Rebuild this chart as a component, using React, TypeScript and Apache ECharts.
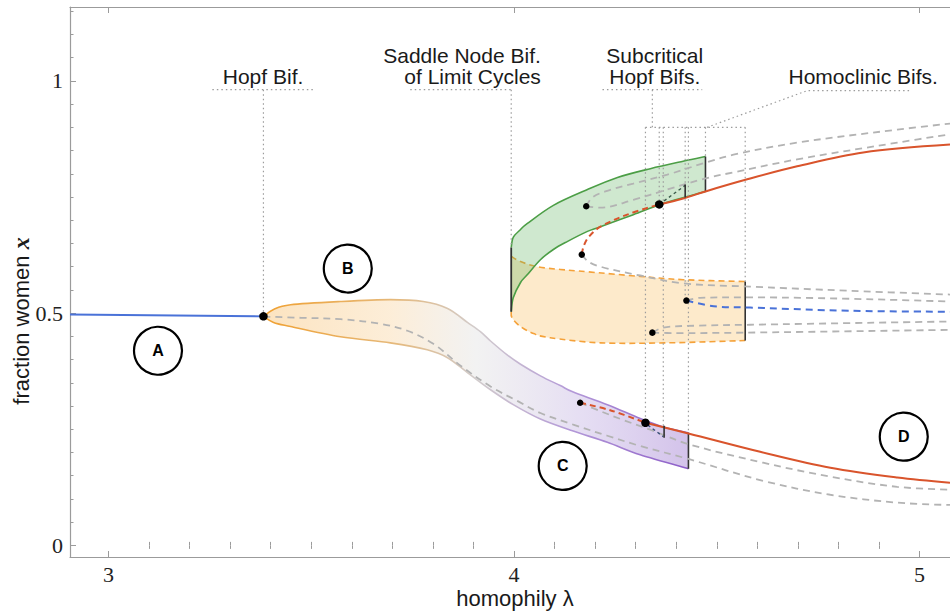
import React, { useEffect, useRef } from "react";
import * as echarts from "echarts";

// ---------- axes ----------
const X_MIN = 2.905;
const X_MAX = 5.075;
const Y_MIN = -0.025;
const Y_MAX = 1.159;
const xMajorTicks = [3, 4, 5];
const xMinorTicks = [3.1, 3.2, 3.3, 3.4, 3.5, 3.6, 3.7, 3.8, 3.9, 4.1, 4.2, 4.3, 4.4, 4.5, 4.6, 4.7, 4.8, 4.9];
const yMajorTicks = [0, 0.5, 1];
const yMinorTicks = [0.05, 0.1, 0.15, 0.2, 0.25, 0.3, 0.35, 0.4, 0.45, 0.55, 0.6, 0.65, 0.7, 0.75, 0.8, 0.85, 0.9, 0.95, 1.05, 1.1, 1.15];

// ---------- branches (lambda, x) ----------
const stableSymmetric = [[2.905, 0.497], [3.382, 0.493]];

const cycleBCUpper = [[3.382, 0.493], [3.407, 0.508], [3.449, 0.518], [3.572, 0.525], [3.695, 0.529], [3.776, 0.525], [3.836, 0.51], [3.885, 0.48], [3.917, 0.46], [3.942, 0.44], [3.983, 0.41], [4.016, 0.39], [4.065, 0.365], [4.114, 0.344], [4.146, 0.33], [4.23, 0.303], [4.311, 0.273], [4.368, 0.255], [4.43, 0.2425]];
const cycleBCLower = [[3.382, 0.493], [3.407, 0.48], [3.449, 0.471], [3.572, 0.449], [3.695, 0.436], [3.786, 0.421], [3.836, 0.404], [3.885, 0.372], [3.942, 0.335], [3.998, 0.303], [4.065, 0.272], [4.146, 0.246], [4.23, 0.222], [4.311, 0.195], [4.43, 0.165]];
const unstableSymmetric = [[3.382, 0.4925], [3.473, 0.49], [3.572, 0.487], [3.67, 0.477], [3.737, 0.462], [3.801, 0.434], [3.868, 0.387], [3.942, 0.342], [4.008, 0.311], [4.065, 0.285], [4.146, 0.26], [4.23, 0.236], [4.311, 0.214], [4.43, 0.186], [4.614, 0.139], [4.78, 0.109], [4.945, 0.092], [5.075, 0.087]];

const lowerSaddle = [[4.163, 0.307], [4.21, 0.29], [4.269, 0.27], [4.336, 0.249], [4.43, 0.218], [4.614, 0.178], [4.78, 0.148], [4.945, 0.126], [5.075, 0.12]];
const lowerUnstableNode = [[4.163, 0.307], [4.237, 0.291], [4.324, 0.264]];
const lowerStable = [[4.324, 0.264], [4.43, 0.241], [4.607, 0.2015], [4.78, 0.167], [4.945, 0.146], [5.075, 0.135]];
const lowerSmallCycle = [[4.33, 0.259], [4.368, 0.234]];
const lowerSmallCycleEnd = [[4.37, 0.2317], [4.37, 0.2575]];

const snlcSegment = [[3.993, 0.503], [3.993, 0.641]];
const greenCycleUpper = [[3.993, 0.641], [3.998, 0.663], [4.016, 0.68], [4.033, 0.693], [4.097, 0.732], [4.181, 0.766], [4.255, 0.792], [4.336, 0.811], [4.417, 0.827], [4.472, 0.837]];
const greenCycleLower = [[3.993, 0.503], [3.998, 0.533], [4.016, 0.566], [4.033, 0.583], [4.065, 0.615], [4.097, 0.637], [4.131, 0.654], [4.181, 0.676], [4.213, 0.686], [4.294, 0.712], [4.361, 0.734], [4.427, 0.751], [4.472, 0.762]];
const orangeCycleUpper = [[3.993, 0.622], [4.016, 0.611], [4.057, 0.6], [4.114, 0.594], [4.181, 0.589], [4.311, 0.579], [4.417, 0.572], [4.57, 0.568]];
const orangeCycleLower = [[3.993, 0.503], [3.995, 0.49], [4.016, 0.471], [4.048, 0.456], [4.089, 0.447], [4.213, 0.436], [4.378, 0.436], [4.57, 0.441]];

const upperUnstableNode = [[4.167, 0.626], [4.172, 0.645], [4.185, 0.665], [4.213, 0.686], [4.279, 0.712], [4.358, 0.734]];
const upperStable = [[4.358, 0.734], [4.417, 0.7468], [4.472, 0.762], [4.575, 0.788], [4.698, 0.816], [4.861, 0.846], [5.075, 0.863]];
const upperSaddle = [[4.167, 0.626], [4.183, 0.611], [4.213, 0.6], [4.311, 0.581], [4.417, 0.564], [4.582, 0.557], [4.829, 0.548], [5.075, 0.54]];
const upperSmallCycle = [[4.358, 0.734], [4.422, 0.775]];
const upperSmallCycleEnd = [[4.422, 0.749], [4.422, 0.777]];
const innerGreenUpper = [[4.178, 0.73], [4.193, 0.749], [4.225, 0.762], [4.294, 0.779], [4.378, 0.798], [4.472, 0.824], [4.541, 0.841], [4.698, 0.867], [4.945, 0.895], [5.075, 0.908]];
const innerGreenLower = [[4.178, 0.73], [4.213, 0.727], [4.294, 0.744], [4.378, 0.766], [4.472, 0.79], [4.541, 0.803], [4.698, 0.831], [4.945, 0.867], [5.075, 0.885]];

const midBlue = [[4.425, 0.527], [4.501, 0.514], [4.582, 0.512], [4.829, 0.505], [5.075, 0.503]];
const midGrayA = [[4.425, 0.527], [4.459, 0.533], [4.582, 0.534], [5.075, 0.525]];
const midGrayB = [[4.341, 0.458], [4.368, 0.469], [4.45, 0.473], [4.582, 0.475], [5.075, 0.482]];
const midGrayC = [[4.341, 0.458], [4.4, 0.457], [4.57, 0.458], [5.075, 0.464]];

const bigDots = [[3.382, 0.493], [4.358, 0.734], [4.324, 0.264]];
const smallDots = [[4.178, 0.73], [4.167, 0.626], [4.425, 0.527], [4.341, 0.458], [4.163, 0.307]];

// ---------- annotation leaders ----------
const leaderY = 0.981;
const bracketY = 0.9;
const hopfLeaderH = [[3.256, leaderY], [3.505, leaderY]];
const hopfLeaderV = [[3.382, leaderY], [3.382, 0.493]];
const snlcLeaderH = [[3.744, leaderY], [3.996, leaderY]];
const snlcLeaderV = [[3.993, leaderY], [3.993, 0.641]];
const subHopfLeaderH = [[4.218, leaderY], [4.464, leaderY]];
const subHopfLeaderV = [[4.341, leaderY], [4.341, bracketY]];
const bracket = [[4.324, bracketY], [4.57, bracketY]];
const homoLeader = [[4.476, bracketY], [4.723, 0.979], [4.977, 0.979]];
const drops = [
  [[4.324, bracketY], [4.324, 0.264]],
  [[4.358, bracketY], [4.358, 0.734]],
  [[4.368, bracketY], [4.368, 0.2575]],
  [[4.422, bracketY], [4.422, 0.527]],
  [[4.43, bracketY], [4.43, 0.2425]],
  [[4.472, bracketY], [4.472, 0.837]],
  [[4.57, bracketY], [4.57, 0.568]],
];

// text anchors: [lambda, x]
const annotationCentered = [
  { name: "Hopf Bif.", value: [3.381, 1.009] },
  { name: "Subcritical\nHopf Bifs.", value: [4.347, 1.031] },
  { name: "Homoclinic Bifs.", value: [4.861, 1.009] },
];
const annotationRight = [{ name: "Saddle Node Bif.\nof Limit Cycles", value: [4.066, 1.031] }];
const regionLabels = [
  { name: "A", value: [3.122, 0.419] },
  { name: "B", value: [3.59, 0.596] },
  { name: "C", value: [4.12, 0.171] },
  { name: "D", value: [4.961, 0.234] },
];

const SANS = "Liberation Sans";
const SERIF = "Liberation Serif";
const GRAY_DASH = "#b3b3b3";
const RED = "#d9542c";
const BLUE = "#4a72d8";
const DOT_GRAY = "#9c9c9c";

function crPath(pts: number[][], move: boolean): string {
  let d = (move ? "M" : "L") + pts[0][0].toFixed(2) + "," + pts[0][1].toFixed(2);
  for (let i = 0; i < pts.length - 1; i++) {
    const p0 = pts[i - 1] || pts[i];
    const p1 = pts[i];
    const p2 = pts[i + 1];
    const p3 = pts[i + 2] || p2;
    const c1x = p1[0] + (p2[0] - p0[0]) / 6;
    const c1y = p1[1] + (p2[1] - p0[1]) / 6;
    const c2x = p2[0] - (p3[0] - p1[0]) / 6;
    const c2y = p2[1] - (p3[1] - p1[1]) / 6;
    d += " C" + c1x.toFixed(2) + "," + c1y.toFixed(2) + " " + c2x.toFixed(2) + "," + c2y.toFixed(2) + " " + p2[0].toFixed(2) + "," + p2[1].toFixed(2);
  }
  return d;
}

export default function App() {
  const ref = useRef<HTMLDivElement>(null);
  useEffect(() => {
    if (!ref.current) return;
    const chart = echarts.init(ref.current, null, { renderer: "svg" });
    const G = echarts.graphic.LinearGradient;

    const bcFill = new G(0, 0, 1, 0, [
      { offset: 0, color: "rgba(246,178,80,0.36)" },
      { offset: 0.3, color: "rgba(246,190,110,0.27)" },
      { offset: 0.5, color: "rgba(205,205,205,0.26)" },
      { offset: 0.75, color: "rgba(170,145,215,0.30)" },
      { offset: 1, color: "rgba(150,110,205,0.42)" },
    ]);
    const bcStroke = () =>
      new G(0, 0, 1, 0, [
        { offset: 0, color: "#f0a030" },
        { offset: 0.3, color: "#e6b878" },
        { offset: 0.5, color: "#d2cccc" },
        { offset: 0.72, color: "#b49ad8" },
        { offset: 1, color: "#8c5cc8" },
      ]);

    const bands = [
      { upper: orangeCycleUpper, lower: orangeCycleLower, fill: "rgba(249,196,112,0.36)", stroke: "#f5a23a", dash: [6, 4], width: 1.6 },
      { upper: greenCycleUpper, lower: greenCycleLower, fill: "rgba(96,180,96,0.30)", stroke: "#4c9e46", dash: null, width: 1.6 },
      { upper: cycleBCUpper, lower: cycleBCLower, fill: bcFill, stroke: "grad", dash: null, width: 1.6 },
    ];

    const mkLine = (data: number[][], color: string, width: number, dash: any, z = 4, smooth: number | boolean = 0.35) => ({
      type: "line",
      data,
      symbol: "none",
      smooth,
      silent: true,
      z,
      lineStyle: { color, width, type: dash },
    });

    const dotted = (data: number[][]) => mkLine(data, DOT_GRAY, 1.2, [1.5, 3], 2, false);

    const textLabel = { show: true, position: "inside", formatter: "{b}", fontFamily: SANS, fontSize: 21, lineHeight: 21, color: "#1a1a1a" };

    const series: any[] = [
      {
        type: "custom",
        coordinateSystem: "cartesian2d",
        silent: true,
        z: 1,
        data: bands.map((b) => b.upper[0]),
        renderItem: (params: any, api: any) => {
          const b = bands[params.dataIndex];
          const up = b.upper.map((p) => api.coord(p));
          const lo = b.lower.map((p) => api.coord(p));
          const upD = crPath(up, true);
          const loD = crPath(lo, true);
          const fillD = upD + " " + crPath([...lo].reverse(), false) + " Z";
          const stroke = b.stroke === "grad" ? bcStroke() : b.stroke;
          const stroke2 = b.stroke === "grad" ? bcStroke() : b.stroke;
          const n = up.length - 1;
          const m = lo.length - 1;
          return {
            type: "group",
            children: [
              { type: "path", shape: { pathData: fillD }, style: { fill: b.fill, stroke: "none" } },
              { type: "path", shape: { pathData: upD }, style: { fill: "none", stroke, lineWidth: b.width, lineDash: b.dash } },
              { type: "path", shape: { pathData: loD }, style: { fill: "none", stroke: stroke2, lineWidth: b.width, lineDash: b.dash } },
              { type: "line", shape: { x1: up[n][0], y1: up[n][1], x2: lo[m][0], y2: lo[m][1] }, style: { stroke: "#333", lineWidth: 1.6 } },
            ],
          };
        },
      },
      dotted(hopfLeaderH),
      dotted(hopfLeaderV),
      dotted(snlcLeaderH),
      dotted(snlcLeaderV),
      dotted(subHopfLeaderH),
      dotted(subHopfLeaderV),
      dotted(bracket),
      dotted(homoLeader),
      ...drops.map((d) => dotted(d)),
      mkLine(stableSymmetric, BLUE, 2, "solid", 4, false),
      mkLine(unstableSymmetric, GRAY_DASH, 1.8, [7, 5]),
      mkLine(lowerSaddle, GRAY_DASH, 1.8, [7, 5]),
      mkLine(lowerUnstableNode, RED, 2, [6, 4]),
      mkLine(lowerStable, RED, 2, "solid"),
      mkLine(lowerSmallCycle, "#3a4f7a", 1.4, [3, 3], 5, false),
      mkLine(lowerSmallCycleEnd, "#333", 1.6, "solid", 5, false),
      mkLine(snlcSegment, "#333", 1.8, "solid", 5, false),
      mkLine(upperSaddle, GRAY_DASH, 1.8, [7, 5]),
      mkLine(innerGreenUpper, GRAY_DASH, 1.8, [7, 5]),
      mkLine(innerGreenLower, GRAY_DASH, 1.8, [7, 5]),
      mkLine(upperUnstableNode, RED, 2, [6, 4]),
      mkLine(upperStable, RED, 2, "solid"),
      mkLine(upperSmallCycle, "#3a5a4a", 1.4, [3, 3], 5, false),
      mkLine(upperSmallCycleEnd, "#333", 1.6, "solid", 5, false),
      mkLine(midGrayA, GRAY_DASH, 1.8, [7, 5]),
      mkLine(midGrayB, GRAY_DASH, 1.8, [7, 5]),
      mkLine(midGrayC, GRAY_DASH, 1.8, [7, 5]),
      mkLine(midBlue, BLUE, 2, [7, 5]),
      {
        type: "scatter",
        data: bigDots,
        symbolSize: 8.5,
        itemStyle: { color: "#000", opacity: 1 },
        silent: true,
        z: 8,
      },
      {
        type: "scatter",
        data: smallDots,
        symbolSize: 6.5,
        itemStyle: { color: "#000", opacity: 1 },
        silent: true,
        z: 8,
      },
      {
        type: "scatter",
        data: regionLabels,
        symbolSize: 48,
        itemStyle: { color: "#fff", borderColor: "#000", borderWidth: 2.2, opacity: 1 },
        label: { show: true, position: "inside", formatter: "{b}", fontFamily: SANS, fontWeight: "bold", fontSize: 16, color: "#000" },
        silent: true,
        z: 9,
      },
      {
        type: "scatter",
        data: annotationCentered,
        symbolSize: 1,
        itemStyle: { color: "rgba(0,0,0,0)", opacity: 1 },
        label: { ...textLabel, align: "center" },
        silent: true,
        z: 9,
      },
      {
        type: "scatter",
        data: annotationRight,
        symbolSize: 1,
        itemStyle: { color: "rgba(0,0,0,0)", opacity: 1 },
        label: { ...textLabel, align: "right" },
        silent: true,
        z: 9,
      },
    ];

    const axisColor = "#9b9b9b";
    const baseX = { type: "value", min: X_MIN, max: X_MAX, splitLine: { show: false } };
    const baseY = { type: "value", min: Y_MIN, max: Y_MAX, splitLine: { show: false } };
    const tickText = { fontFamily: SERIF, fontSize: 22, color: "#222", fontWeight: "normal" };

    chart.setOption({
      animation: false,
      textStyle: { fontFamily: SANS },
      grid: { left: 70, right: 0, top: 7, bottom: 54, containLabel: false, outerBoundsMode: "none" },
      xAxis: [
        {
          ...baseX,
          position: "bottom",
          axisLine: { show: true, onZero: false, lineStyle: { color: axisColor, width: 1.2 } },
          axisTick: { show: true, inside: true, length: 6, customValues: xMajorTicks, lineStyle: { color: axisColor } },
          axisLabel: { show: true, customValues: xMajorTicks, ...tickText, margin: 6 },
        },
        {
          ...baseX,
          position: "bottom",
          axisLine: { show: false },
          axisTick: { show: true, inside: true, length: 3.5, customValues: xMinorTicks, lineStyle: { color: axisColor } },
          axisLabel: { show: false },
        },
        {
          ...baseX,
          position: "top",
          axisLine: { show: true, onZero: false, lineStyle: { color: axisColor, width: 1.2 } },
          axisTick: { show: true, inside: true, length: 6, customValues: xMajorTicks, lineStyle: { color: axisColor } },
          axisLabel: { show: false },
        },
        {
          ...baseX,
          position: "top",
          axisLine: { show: false },
          axisTick: { show: true, inside: true, length: 3.5, customValues: xMinorTicks, lineStyle: { color: axisColor } },
          axisLabel: { show: false },
        },
      ],
      yAxis: [
        {
          ...baseY,
          position: "left",
          axisLine: { show: true, onZero: false, lineStyle: { color: axisColor, width: 1.2 } },
          axisTick: { show: true, inside: true, length: 6, customValues: yMajorTicks, lineStyle: { color: axisColor } },
          axisLabel: { show: true, customValues: yMajorTicks, ...tickText, margin: 7 },
        },
        {
          ...baseY,
          position: "left",
          axisLine: { show: false },
          axisTick: { show: true, inside: true, length: 3.5, customValues: yMinorTicks, lineStyle: { color: axisColor } },
          axisLabel: { show: false },
        },
      ],
      graphic: [
        {
          type: "text",
          x: 515,
          y: 598,
          style: { text: "homophily λ", fontFamily: SANS, fontSize: 22, fill: "#1a1a1a", align: "center", verticalAlign: "middle" },
        },
        {
          type: "text",
          x: 21,
          y: 321,
          rotation: Math.PI / 2,
          style: {
            text: "{a|fraction women }{b|x}",
            align: "center",
            verticalAlign: "middle",
            rich: {
              a: { fontFamily: SANS, fontSize: 22, fill: "#1a1a1a", color: "#1a1a1a" },
              b: { fontFamily: SERIF, fontSize: 24, fontStyle: "italic", fontWeight: "bold", fill: "#1a1a1a", color: "#1a1a1a" },
            },
          },
        },
      ],
      series,
    });
    return () => chart.dispose();
  }, []);

  return <div ref={ref} style={{ position: "fixed", left: 0, top: 0, width: 950, height: 611, background: "#fff" }} />;
}
